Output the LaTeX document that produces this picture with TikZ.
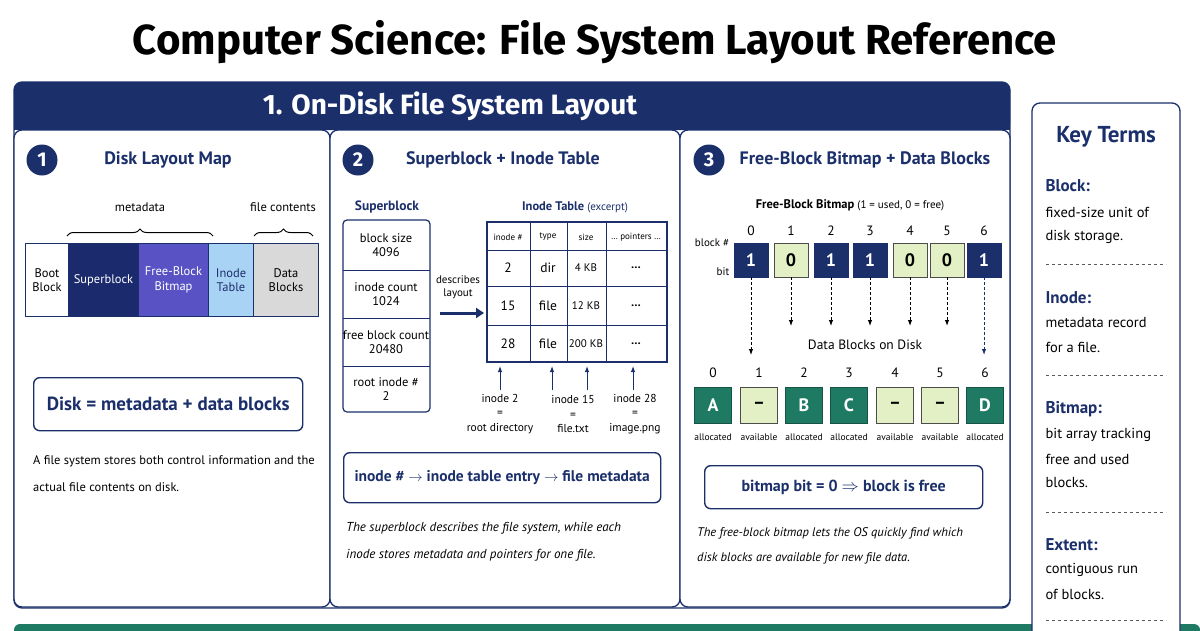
\documentclass[tikz,border=0pt]{standalone}
\usepackage{fontspec}
\setmainfont{PT Sans}
\newfontfamily\titlefont{Fira Sans}
\usetikzlibrary{decorations.pathreplacing,arrows.meta}
\definecolor{navy}{HTML}{1B2F6B}
\definecolor{sbnavy}{HTML}{1A2A6C}
\definecolor{purp}{HTML}{5852C4}
\definecolor{lblue}{HTML}{A9D3F5}
\definecolor{lgray}{HTML}{D9D9D9}
\definecolor{teal}{HTML}{1F7A63}
\definecolor{lgreen}{HTML}{E3EFC4}
\tikzset{
 panel/.style={draw=navy,line width=1.3pt,rounded corners=8pt,fill=white},
 num/.style={circle,fill=navy,text=white,minimum size=31pt,inner sep=0pt,font=\titlefont\bfseries\fontsize{20}{22}\selectfont},
 ptitle/.style={text=navy,font=\bfseries\fontsize{18}{20}\selectfont},
 lbl/.style={font=\fontsize{12.5}{14.5}\selectfont},
 small/.style={font=\fontsize{11}{13}\selectfont},
 tiny/.style={font=\fontsize{9}{11}\selectfont},
 cell/.style={draw=navy,line width=1pt},
 rbox/.style={draw=navy,line width=1.4pt,rounded corners=6pt},
 bittxt/.style={font=\bfseries\fontsize{18}{20}\selectfont},
 dar/.style={densely dashed,line width=1pt,-{Latex[length=6pt]}},
 uar/.style={line width=1pt,-{Latex[length=6pt]}},
}
\newcommand{\dotsrow}{\ldots}
\begin{document}
\begin{tikzpicture}[x=1pt,y=-1pt]
\useasboundingbox (0,0) rectangle (1200,630);
\fill[white] (0,0) rectangle (1200,630);
\node (title) at (595,42) {\titlefont\bfseries\fontsize{42}{48}\selectfont Computer Science: File System Layout Reference};
% main panel
\draw[panel] (14,82) rectangle (1010,608);
\fill[navy,rounded corners=8pt] (14,82) rectangle (1010,130);
\fill[navy] (14,115) rectangle (1010,130);
\node[text=white,font=\titlefont\bfseries\fontsize{28}{32}\selectfont] (h1) at (450,106) {1. On-Disk File System Layout};
\draw[panel] (14,130) rectangle (330,607);
\draw[panel] (330,130) rectangle (680,607);
\draw[panel] (680,130) rectangle (1010,607);
% bottom band
\fill[teal,rounded corners=6pt] (14,624) rectangle (1200,640);
% key terms
\draw[panel] (1032,103) rectangle (1180,640);
\node[text=navy,font=\bfseries\fontsize{23}{26}\selectfont] (kt) at (1106,137) {Key Terms};
\foreach \t/\y in {Block:/186,Inode:/298,Bitmap:/409,Extent:/545}
  \node[anchor=west,text=navy,font=\bfseries\fontsize{17}{19}\selectfont] at (1042,\y) {\t};
\foreach \t/\y in {fixed-size unit of/212,disk storage./237,metadata record/323,for a file./347,bit array tracking/435,free and used/459,blocks./483,contiguous run/570,of blocks./594}
  \node[anchor=west,font=\fontsize{14.5}{16}\selectfont] at (1042,\y) {\t};
\foreach \y in {264,375,512,620}
  \draw[dashed,line width=0.8pt,gray!70!black] (1046,\y) -- (1166,\y);
% ===== panel 1
\node[num] (n1) at (42,160) {1};
\node[ptitle] (t1) at (168,160) {Disk Layout Map};
\node[lbl] (md) at (140,207) {metadata};
\node[lbl] (fc) at (283,207) {file contents};
\draw[decorate,decoration={brace,amplitude=7pt},line width=1pt] (67,236) -- (213,236);
\draw[decorate,decoration={brace,amplitude=7pt},line width=1pt] (254,236) -- (313,236);
\node[cell,fill=white,minimum width=43pt,minimum height=73pt,anchor=north west,inner sep=0pt,align=center,lbl] (boot) at (25,243) {Boot\\Block};
\node[cell,fill=sbnavy,text=white,minimum width=70pt,minimum height=73pt,anchor=north west,inner sep=0pt,lbl] (sb) at (68,243) {Superblock};
\node[cell,fill=purp,text=white,minimum width=70pt,minimum height=73pt,anchor=north west,inner sep=0pt,align=center,lbl] (fb) at (138,243) {Free-Block\\Bitmap};
\node[cell,fill=lblue,text=navy,minimum width=45pt,minimum height=73pt,anchor=north west,inner sep=0pt,align=center,lbl] (it) at (208,243) {Inode\\Table};
\node[cell,fill=lgray,minimum width=65pt,minimum height=73pt,anchor=north west,inner sep=0pt,align=center,lbl] (db) at (253,243) {Data\\Blocks};
\node[rbox,minimum width=269pt,minimum height=53pt,anchor=north west,text=navy,font=\bfseries\fontsize{19}{21}\selectfont] (eq1) at (33,377) {Disk = metadata + data blocks};
\node[anchor=north west,align=left,font=\fontsize{12.5}{27}\selectfont,inner sep=0pt] (d1) at (33,455) {A file system stores both control information and the\\actual file contents on disk.};
% ===== panel 2
\node[num] (n2) at (358,160) {2};
\node[ptitle] (t2) at (503,160) {Superblock + Inode Table};
\node[text=navy,font=\bfseries\fontsize{13.5}{15}\selectfont] (sbt) at (387,207) {Superblock};
\draw[navy,line width=1.2pt,rounded corners=4pt] (343,220) rectangle (430,412);
\foreach \y in {270,318,366} \draw[navy,line width=1pt] (343,\y) -- (430,\y);
\node[lbl,align=center] (s1) at (386,245) {block size\\4096};
\node[lbl,align=center] (s2) at (386,294) {inode count\\1024};
\node[lbl,align=center] (s3) at (386,342) {free block count\\20480};
\node[lbl,align=center] (s4) at (386,389) {root inode \#\\2};
\node[small,align=center] (dl) at (458,287) {describes\\layout};
\coordinate (a1) at (440,313);
\coordinate (a2) at (484,313);
\draw[navy,line width=3pt,-{Triangle[length=8pt,width=10pt]}] (a1) -- (a2);
\node[text=navy] (itt) at (575,207) {\bfseries\fontsize{12.5}{14}\selectfont Inode Table \mdseries\fontsize{11}{14}\selectfont(excerpt)};
\draw[navy,line width=1.2pt] (487,222) rectangle (667,362);
\foreach \y in {250,286,325} \draw[navy,line width=1pt] (487,\y) -- (667,\y);
\foreach \x in {530,567,606} \draw[navy,line width=1pt] (\x,222) -- (\x,362);
\node[tiny] (h1c) at (508,237) {inode \#};
\node[tiny] (h2c) at (548,237) {type};
\node[tiny] (h3c) at (586,237) {size};
\node[tiny] (h4c) at (636,237) {\dotsrow\ pointers \dotsrow};
\foreach \a/\b/\c/\y in {2/dir/4 KB/268,15/file/12 KB/306,28/file/200 KB/344}{
  \node[font=\fontsize{13.5}{15}\selectfont] at (508,\y) {\a};
  \node[font=\fontsize{13.5}{15}\selectfont] at (548,\y) {\b};
  \node[small] at (586,\y) {\c};
  \node[font=\bfseries\fontsize{12}{14}\selectfont] at (636,\y) {\dotsrow};
}
\foreach \x/\n in {500/p1,552/p2,587/p3,633/p4}{
  \coordinate (\n b) at (\x,390);
  \coordinate (\n t) at (\x,366);
  \draw[uar,navy] (\n b) -- (\n t);
}
\node[align=center,font=\fontsize{11.5}{14.5}\selectfont] (i2) at (500,414) {inode 2\\=\\root directory};
\node[align=center,font=\fontsize{11.5}{14.5}\selectfont] (i15) at (573,414) {inode 15\\=\\file.txt};
\node[align=center,font=\fontsize{11.5}{14.5}\selectfont] (i28) at (635,414) {inode 28\\=\\image.png};
\node[rbox,minimum width=317pt,minimum height=50pt,anchor=north west,text=navy,font=\bfseries\fontsize{15.5}{18}\selectfont] (eq2) at (343,452) {inode \# $\rightarrow$ inode table entry $\rightarrow$ file metadata};
\node[anchor=north west,align=left,font=\itshape\fontsize{13}{27}\selectfont,inner sep=0pt] (d2) at (346,522) {The superblock describes the file system, while each\\inode stores metadata and pointers for one file.};
% ===== panel 3
\node[num] (n3) at (709,160) {3};
\node[ptitle] (t3) at (865,160) {Free-Block Bitmap + Data Blocks};
\node (bmt) at (850,205) {\bfseries\fontsize{12.5}{14}\selectfont Free-Block Bitmap \mdseries\fontsize{11}{14}\selectfont(1 = used, 0 = free)};
\node[small] (bn) at (712,243) {block \#};
\node[small] (bt) at (723,272) {bit};
\foreach \i/\x/\v in {0/751/1,1/791/0,2/831/1,3/870/1,4/910/0,5/947/0,6/984/1}{
  \node[font=\fontsize{13.5}{15}\selectfont] at (\x,231) {\i};
  \ifnum\v=1
    \node[draw=navy,fill=navy,text=white,minimum size=34pt,inner sep=0pt,bittxt] (b\i) at (\x,260) {1};
  \else
    \node[draw=black!70,fill=lgreen,minimum size=34pt,inner sep=0pt,bittxt] (b\i) at (\x,260) {0};
  \fi
}
\foreach \i/\x/\s in {0/713/allocated,1/759/available,2/804/allocated,3/849/allocated,4/895/available,5/940/available,6/985/allocated}{
  \node[font=\fontsize{13.5}{15}\selectfont] at (\x,373) {\i};
  \node[font=\fontsize{9.5}{11}\selectfont] at (\x,437) {\s};
}
\foreach \i/\x/\c in {0/713/A,2/804/B,3/849/C,6/985/D}
  \node[draw=teal!70!black,fill=teal,text=white,minimum width=37pt,minimum height=36pt,inner sep=0pt,bittxt] (d\i) at (\x,405) {\c};
\foreach \i/\x in {1/759,4/895,5/940}
  \node[draw=black!70,fill=lgreen,minimum width=37pt,minimum height=36pt,inner sep=0pt,bittxt] (d\i) at (\x,405) {--};
\node[font=\fontsize{13.5}{15}\selectfont] (dbd) at (865,345) {Data Blocks on Disk};
\foreach \i/\x in {1/791,2/831,3/870,4/910,5/947}{
  \coordinate (e\i) at (\x,326);
  \draw[dar] (b\i.south) -- (e\i);
}
\coordinate (e0) at (751,355);
\draw[dar] (b0.south) -- (e0);
\coordinate (e6) at (984,355);
\draw[dar,navy] (b6.south) -- (e6);
\node[rbox,minimum width=278pt,minimum height=43pt,anchor=north west,text=navy,font=\bfseries\fontsize{16}{18}\selectfont] (eq3) at (704,465) {bitmap bit = 0 $\Rightarrow$ block is free};
\node[anchor=north west,align=left,font=\itshape\fontsize{12.5}{25}\selectfont,inner sep=0pt] (d3) at (697,527) {The free-block bitmap lets the OS quickly find which\\disk blocks are available for new file data.};
\end{tikzpicture}
\end{document}
